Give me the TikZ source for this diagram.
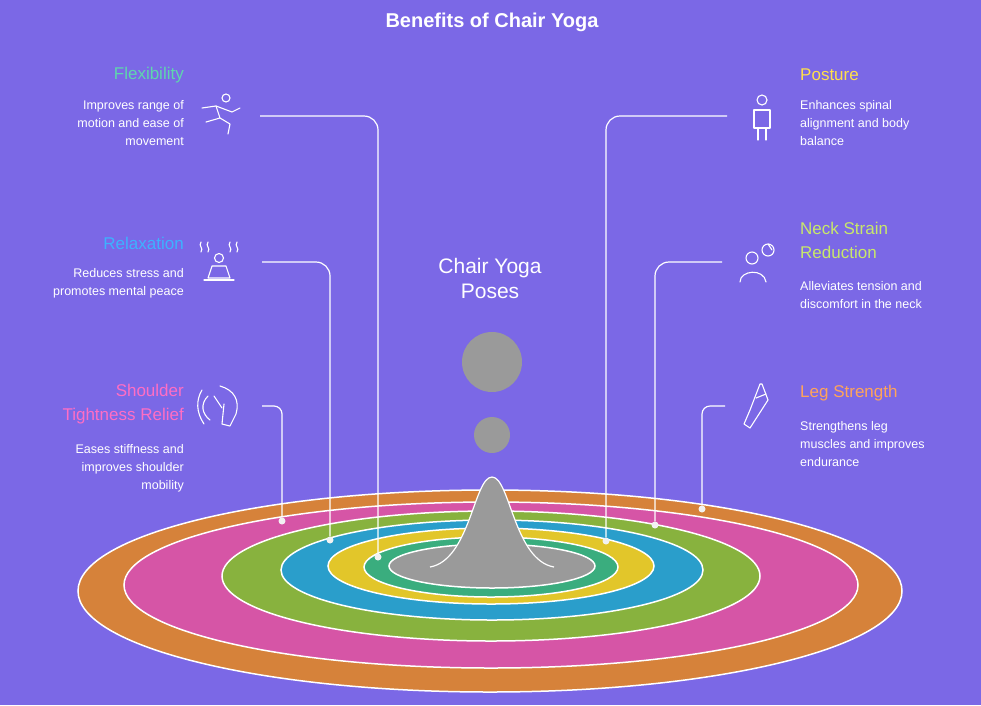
\documentclass[tikz,border=0pt]{standalone}
\usepackage{fontspec}
\setmainfont{Liberation Sans}
\usetikzlibrary{positioning}
\definecolor{bgpurple}{HTML}{7B68E6}
\definecolor{cflex}{HTML}{5FD6AE}
\definecolor{crelax}{HTML}{3DB2FF}
\definecolor{cshoulder}{HTML}{FF6EC4}
\definecolor{cposture}{HTML}{FFE04A}
\definecolor{cneck}{HTML}{C8E86A}
\definecolor{cleg}{HTML}{FFA45A}
\definecolor{rorange}{HTML}{D6823A}
\definecolor{rpink}{HTML}{D655A6}
\definecolor{rgreen}{HTML}{88B23E}
\definecolor{rblue}{HTML}{2A9ECB}
\definecolor{ryellow}{HTML}{E2C62A}
\definecolor{rteal}{HTML}{3AAD7E}
\definecolor{rgray}{HTML}{9A9A9A}
\tikzset{
  ring/.style={draw=white, line width=1.5pt},
  head/.style={font=\fontsize{17}{24}\selectfont, inner sep=0pt},
  desc/.style={font=\fontsize{12.5}{18}\selectfont, text=white, inner sep=0pt},
  link/.style={draw=white, line width=1.2pt, rounded corners=14pt},
  icon/.style={draw=white, line width=1.1pt, line cap=round, line join=round},
  dot/.style={circle, fill=white!90!gray, minimum size=7pt, inner sep=0pt}
}
\begin{document}
\begin{tikzpicture}[x=1pt,y=-1pt]
	\fill[bgpurple] (0,0) rectangle (981,705);
	\useasboundingbox (0,0) rectangle (981,705);

	\node[font=\bfseries\fontsize{20}{24}\selectfont, text=white] (title) at (492,22) {Benefits of Chair Yoga};

	% rings
	\draw[ring, fill=rorange] (490,591) ellipse (412 and 101);
	\draw[ring, fill=rpink] (491,585) ellipse (367 and 83);
	\draw[ring, fill=rgreen] (491,576) ellipse (269 and 65);
	\draw[ring, fill=rblue] (492,570) ellipse (211 and 50);
	\draw[ring, fill=ryellow] (491,566) ellipse (163 and 38);
	\draw[ring, fill=rteal] (491,567) ellipse (127 and 30);
	\draw[ring, fill=rgray] (492,566) ellipse (103 and 22);
	\draw[draw=white, line width=1.2pt, fill=rgray] (430,567) .. controls (470,560) and (474,477) .. (492,477) .. controls (510,477) and (514,560) .. (554,567);
	\node[circle, fill=rgray, minimum size=60pt, inner sep=0pt] (bigdrop) at (492,362) {};
	\node[circle, fill=rgray, minimum size=36pt, inner sep=0pt] (smalldrop) at (492,435) {};
	\node[font=\fontsize{21}{25}\selectfont, text=white, align=center] (poses) at (490,278) {Chair Yoga\\Poses};

	% left side
	\node[head, text=cflex, anchor=east] (flex) at (184,75) {Flexibility};
	\node[desc, anchor=north east, align=right] (flexd) at (184,100) {Improves range of\\motion and ease of\\movement};
	\node[head, text=crelax, anchor=east] (relax) at (184,243) {Relaxation};
	\node[desc, anchor=north east, align=right] (relaxd) at (184,268) {Reduces stress and\\promotes mental peace};
	\node[head, text=cshoulder, anchor=north east, align=right] (shoulder) at (184,384) {Shoulder\\Tightness Relief};
	\node[desc, anchor=north east, align=right] (shoulderd) at (184,444) {Eases stiffness and\\improves shoulder\\mobility};

	% right side
	\node[head, text=cposture, anchor=west] (posture) at (800,75) {Posture};
	\node[desc, anchor=north west, align=left] (postured) at (800,100) {Enhances spinal\\alignment and body\\balance};
	\node[head, text=cneck, anchor=north west, align=left] (neck) at (800,222) {Neck Strain\\Reduction};
	\node[desc, anchor=north west, align=left] (neckd) at (800,281) {Alleviates tension and\\discomfort in the neck};
	\node[head, text=cleg, anchor=west] (leg) at (800,393) {Leg Strength};
	\node[desc, anchor=north west, align=left] (legd) at (800,421) {Strengthens leg\\muscles and improves\\endurance};

	% connectors
	\coordinate (flexs) at (260,116);
	\coordinate (relaxs) at (262,262);
	\coordinate (shoulders) at (262,406);
	\coordinate (postures) at (727,116);
	\coordinate (necks) at (722,262);
	\coordinate (legs) at (725,406);
	\node[dot] (flexe) at (378,557) {};
	\node[dot] (relaxe) at (330,540) {};
	\node[dot] (shouldere) at (282,521) {};
	\node[dot] (posturee) at (606,541) {};
	\node[dot] (necke) at (655,525) {};
	\node[dot] (lege) at (702,509) {};
	\draw[link] (flexs) -| (flexe);
	\draw[link] (relaxs) -| (relaxe);
	\draw[link, rounded corners=8pt] (shoulders) -| (shouldere);
	\draw[link] (postures) -| (posturee);
	\draw[link] (necks) -| (necke);
	\draw[link, rounded corners=8pt] (legs) -| (lege);

	% icons
	\draw[icon] (226,98) circle (4);
	\draw[icon] (202,108) -- (216,106) -- (232,112) -- (240,108);
	\draw[icon] (216,106) -- (220,118) -- (206,122) (220,118) -- (230,124) -- (228,134);
	\draw[icon] (219,258) circle (4.5);
	\draw[icon] (212,266) -- (226,266) -- (230,278) -- (208,278) -- (212,266);
	\draw[icon] (204,280) -- (234,280);
	\foreach \sx in {201,208,230,237} \draw[icon] (\sx,242) .. controls (\sx-3,246) and (\sx+3,248) .. (\sx,252);
	\draw[icon] (208,396) .. controls (200,404) and (202,414) .. (210,420);
	\draw[icon] (202,390) .. controls (196,400) and (196,412) .. (204,424);
	\draw[icon] (220,386) .. controls (234,390) and (240,400) .. (236,414) -- (230,426) -- (222,424) -- (224,404);
	\draw[icon] (214,396) -- (222,408);
	\draw[icon] (762,100) circle (5);
	\draw[icon] (754,110) -- (770,110) -- (770,128) -- (754,128) -- cycle;
	\draw[icon] (758,128) -- (758,140) (766,128) -- (766,140);
	\draw[icon] (752,258) circle (6);
	\draw[icon] (740,282) .. controls (740,270) and (764,268) .. (766,282);
	\draw[icon] (768,250) circle (6);
	\draw[icon] (768,244) -- (772,250);
	\draw[icon] (760,384) -- (750,410) -- (744,424) -- (750,428) -- (768,400) -- (762,384) -- cycle;
	\draw[icon] (756,398) -- (766,394);
\end{tikzpicture}
\end{document}
